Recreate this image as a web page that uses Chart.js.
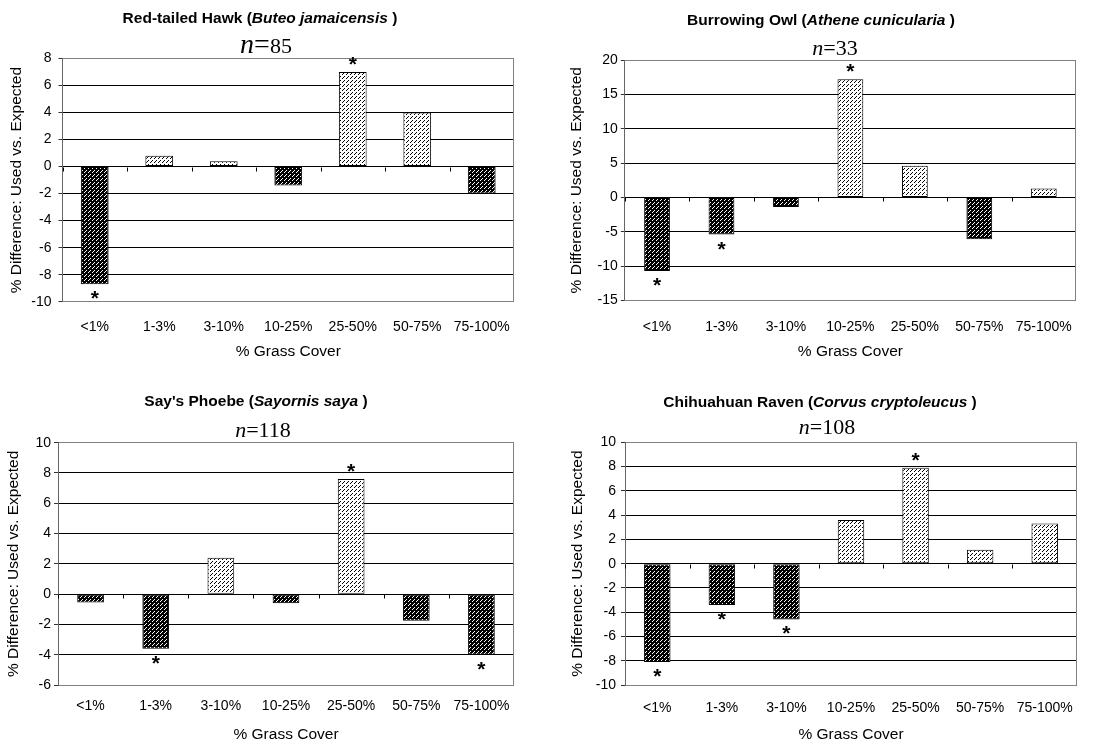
<!DOCTYPE html>
<html>
<head>
<meta charset="utf-8">
<script src="https://cdn.jsdelivr.net/npm/chart.js@4/dist/chart.umd.min.js"></script>
<style>
  html, body { margin: 0; padding: 0; background: #fff; }
  #wrap { position: relative; width: 1105px; height: 742px; overflow: hidden; background: #fff; }
  #wrap canvas { position: absolute; }
</style>
</head>
<body>
<div id="wrap">
  <canvas id="hawk" width="552" height="365" style="left:0px;top:0px"></canvas>
  <canvas id="owl" width="553" height="365" style="left:552px;top:0px"></canvas>
  <canvas id="phoebe" width="552" height="377" style="left:0px;top:365px"></canvas>
  <canvas id="raven" width="553" height="377" style="left:552px;top:365px"></canvas>
</div>
<script>
// Grass-cover classes shared by every panel
const grassCover = ['<1%', '1-3%', '3-10%', '10-25%', '25-50%', '50-75%', '75-100%'];

// % difference between used and expected locations, per species
const hawkDiff   = [-8.7, 0.8, 0.4, -1.4, 7.0, 4.0, -2.0];
const owlDiff    = [-10.7, -5.4, -1.4, 17.2, 4.6, -6.1, 1.3];
const phoebeDiff = [-0.55, -3.6, 2.4, -0.6, 7.6, -1.75, -4.0];
const ravenDiff  = [-8.1, -3.4, -4.6, 3.6, 7.9, 1.15, 3.3];

// Significant differences (marked with an asterisk)
const hawkSig   = [true, false, false, false, true, false, false];
const owlSig    = [true, true, false, true, false, false, false];
const phoebeSig = [false, true, false, false, true, false, true];
const ravenSig  = [true, true, true, false, true, false, false];

// Species names and sample sizes
const commonNames = ['Red-tailed Hawk', 'Burrowing Owl', "Say's Phoebe", 'Chihuahuan Raven'];
const sciNames    = ['Buteo jamaicensis', 'Athene cunicularia', 'Sayornis saya', 'Corvus cryptoleucus'];
const sampleSizes = [85, 33, 118, 108];

// Y-axis ranges (min, max, step)
const hawkRange   = [-10, 8, 2];
const owlRange    = [-15, 20, 5];
const phoebeRange = [-6, 10, 2];
const ravenRange  = [-10, 10, 2];

const SANS = "'Liberation Sans', Arial, sans-serif";
const SERIF = "'Liberation Serif', 'Times New Roman', serif";
Chart.defaults.font.family = SANS;
Chart.defaults.color = '#000';

// Stippled fills: dark bars for avoided classes, light bars for selected ones
function stipple(bg, fg, dots) {
  const c = document.createElement('canvas');
  c.width = 4; c.height = 4;
  const g = c.getContext('2d');
  g.fillStyle = bg; g.fillRect(0, 0, 4, 4);
  g.fillStyle = fg;
  dots.forEach(([px, py]) => g.fillRect(px, py, 1, 1));
  return g.createPattern(c, 'repeat');
}
const darkFill = stipple('#000', '#fff', [[0, 0], [2, 2], [1, 3]]);
const lightFill = stipple('#fff', '#000', [[0, 0], [2, 2], [3, 1]]);

function drawRuns(ctx, runs, cx, baseline) {
  let total = 0;
  runs.forEach(r => { ctx.font = r.font; r.w = ctx.measureText(r.text).width; total += r.w; });
  let x = cx - total / 2;
  ctx.textAlign = 'left';
  ctx.textBaseline = 'alphabetic';
  runs.forEach(r => { ctx.font = r.font; ctx.fillText(r.text, x, baseline); x += r.w; });
}

// Draws plot frame, zero-line tick marks, asterisks and the two-line panel heading
const panelDecor = {
  id: 'panelDecor',
  afterDatasetsDraw(chart, args, o) {
    const { ctx, chartArea: a, scales: { x, y } } = chart;
    ctx.save();
    ctx.lineWidth = 1;
    // right edge of plot frame
    ctx.strokeStyle = '#808080';
    const rx = Math.round(a.right) - 0.5;
    ctx.beginPath(); ctx.moveTo(rx, a.top); ctx.lineTo(rx, a.bottom); ctx.stroke();
    // category tick marks hanging below the zero line
    const y0 = Math.round(y.getPixelForValue(0)) + 0.5;
    const step = x.getPixelForValue(1) - x.getPixelForValue(0);
    ctx.strokeStyle = '#000';
    ctx.beginPath();
    for (let i = 0; i < chart.data.labels.length; i++) {
      const bx = Math.round(x.getPixelForValue(i) - step / 2) + 0.5;
      ctx.moveTo(bx, y0); ctx.lineTo(bx, y0 + 4);
    }
    ctx.stroke();
    // significance asterisks
    ctx.fillStyle = '#000';
    ctx.font = 'bold 21px ' + SANS;
    ctx.textAlign = 'center';
    ctx.textBaseline = 'alphabetic';
    const m = ctx.measureText('*');
    const mid = (m.actualBoundingBoxAscent - m.actualBoundingBoxDescent) / 2;
    const vals = chart.data.datasets[0].data;
    chart.getDatasetMeta(0).data.forEach((bar, i) => {
      if (!o.sig[i]) return;
      const cy = vals[i] >= 0 ? bar.y - 11 : bar.y + 11;
      ctx.fillText('*', bar.x, cy + mid);
    });
    // heading
    drawRuns(ctx, [
      { text: o.common + ' (', font: 'bold 15.5px ' + SANS },
      { text: o.sci, font: 'bold italic 15.5px ' + SANS },
      { text: ' )', font: 'bold 15.5px ' + SANS }
    ], o.titleX, o.titleBase);
    drawRuns(ctx, [
      { text: 'n', font: 'italic ' + o.nSize + 'px ' + SERIF },
      { text: '=', font: o.nSize + 'px ' + SERIF },
      { text: String(o.n), font: '22px ' + SERIF }
    ], o.nX, o.nBase);
    ctx.restore();
  }
};

function makePanel(id, idx, values, sig, range, L) {
  const cv = document.getElementById(id);
  const W = cv.width, H = cv.height;
  const [ymin, ymax, ystep] = range;
  return new Chart(cv, {
    type: 'bar',
    data: {
      labels: grassCover,
      datasets: [{
        data: values,
        backgroundColor: c => (c.raw < 0 ? darkFill : lightFill),
        borderColor: '#000',
        borderWidth: 1,
        borderSkipped: false,
        barPercentage: L.bar,
        categoryPercentage: 1
      }]
    },
    options: {
      responsive: false,
      animation: false,
      devicePixelRatio: 1,
      events: [],
      layout: { padding: { top: L.t, right: W - L.r, bottom: 0, left: 0 } },
      plugins: {
        legend: { display: false },
        tooltip: { enabled: false },
        panelDecor: {
          sig: sig, common: commonNames[idx], sci: sciNames[idx], n: sampleSizes[idx],
          titleX: L.titleX, titleBase: L.titleBase, nX: L.nX, nBase: L.nBase, nSize: L.nSize
        }
      },
      scales: {
        x: {
          offset: true,
          grid: { display: false },
          border: { display: false },
          ticks: { color: '#000', font: { size: 14 }, padding: L.xPad, maxRotation: 0, autoSkip: false },
          title: {
            display: true, text: '% Grass Cover', color: '#000',
            font: { size: 15.5, lineHeight: 1 }, padding: { top: 0, bottom: L.xTitlePad }
          },
          afterFit(s) { s.height = H - L.b; }
        },
        y: {
          min: ymin, max: ymax,
          ticks: { stepSize: ystep, color: '#000', font: { size: 14 }, padding: L.yPad },
          grid: {
            color: c => (c.tick && (c.tick.value === ymax || c.tick.value === ymin)) ? '#808080' : '#000',
            tickColor: '#333', tickLength: 4, lineWidth: 1
          },
          border: { color: '#666', width: 1 },
          title: {
            display: true, text: '% Difference: Used vs. Expected', color: '#000',
            font: { size: 15.5, lineHeight: 1 }, padding: { top: L.yTitlePad, bottom: 0 }
          },
          afterFit(s) { s.width = L.l; }
        }
      }
    },
    plugins: [panelDecor]
  });
}

makePanel('hawk', 0, hawkDiff, hawkSig, hawkRange, {
  l: 62.5, r: 514, t: 58.5, b: 301.7, bar: 0.43,
  titleX: 260, titleBase: 23, nX: 266, nBase: 53, nSize: 28,
  xPad: 9, xTitlePad: 5.25, yPad: 7, yTitlePad: 9
});
makePanel('owl', 1, owlDiff, owlSig, owlRange, {
  l: 72.8, r: 524, t: 60, b: 300.5, bar: 0.4,
  titleX: 269, titleBase: 25, nX: 283, nBase: 55, nSize: 22,
  xPad: 10.5, xTitlePad: 5.25, yPad: 3, yTitlePad: 16.5
});
makePanel('phoebe', 2, phoebeDiff, phoebeSig, phoebeRange, {
  l: 58, r: 514, t: 77.7, b: 320, bar: 0.41,
  titleX: 256, titleBase: 41, nX: 263, nBase: 71.7, nSize: 22,
  xPad: 5, xTitlePad: -0.75, yPad: 3, yTitlePad: 5.5
});
makePanel('raven', 3, ravenDiff, ravenSig, ravenRange, {
  l: 73, r: 525, t: 77.3, b: 320, bar: 0.41,
  titleX: 268, titleBase: 42.3, nX: 275, nBase: 69.3, nSize: 22,
  xPad: 7, xTitlePad: -0.75, yPad: 5, yTitlePad: 17.5
});
</script>
</body>
</html>
